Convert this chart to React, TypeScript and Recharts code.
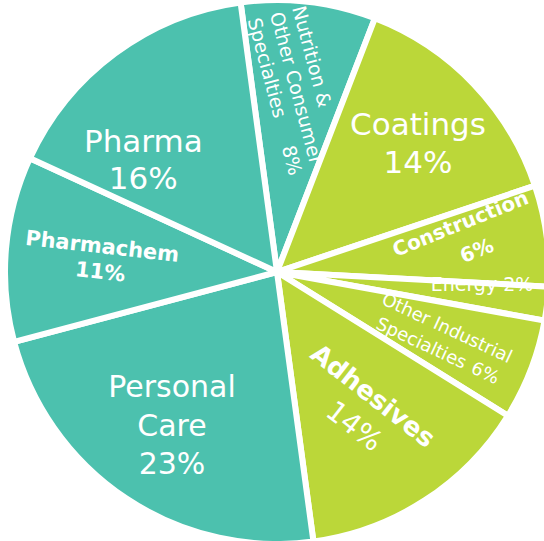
import React from 'react';
import { PieChart, Pie, Cell } from 'recharts';

// segments go clockwise starting just left of 12 o'clock
const segments = [
  'Nutrition & Other Consumer Specialties',
  'Coatings',
  'Construction',
  'Energy',
  'Other Industrial Specialties',
  'Adhesives',
  'Personal Care',
  'Pharmachem',
  'Pharma',
];
const shares = [8, 14, 6, 2, 6, 14, 23, 11, 16];
const markets = ['consumer', 'industrial', 'industrial', 'industrial', 'industrial', 'industrial', 'consumer', 'consumer', 'consumer'];
const nameLines = [
  ['Nutrition &', 'Other Consumer', 'Specialties'],
  ['Coatings'],
  ['Construction'],
  ['Energy'],
  ['Other Industrial', 'Specialties'],
  ['Adhesives'],
  ['Personal', 'Care'],
  ['Pharmachem'],
  ['Pharma'],
];

const marketColors: Record<string, string> = {
  consumer: '#4CC1AE',
  industrial: '#BBD739',
};

type LabelLayout = {
  x: number; // offset from pie centre
  y: number;
  rotate: number;
  size: number;
  weight: string;
  anchor: 'start' | 'middle' | 'end';
  lines: [number, number][];
  pct: [number, number] | null; // null -> percent inline on last line
  pctSize?: number;
  pctWeight?: string;
};

const labelLayout: LabelLayout[] = [
  { x: 15, y: -264, rotate: 75, size: 19, weight: 'normal', anchor: 'start', lines: [[0, 0], [0, 23], [0, 46]], pct: [132, 46] },
  { x: 141, y: -137, rotate: 0, size: 31, weight: 'normal', anchor: 'middle', lines: [[0, 0]], pct: [0, 38] },
  { x: 186, y: -42, rotate: -22, size: 20, weight: 'bold', anchor: 'middle', lines: [[0, 0]], pct: [5, 31] },
  { x: 205, y: 19, rotate: 0, size: 19, weight: 'normal', anchor: 'middle', lines: [[0, 0]], pct: null },
  { x: 103.5, y: 31.6, rotate: 25, size: 18, weight: 'normal', anchor: 'start', lines: [[0, 0], [5, 24.5]], pct: [110, 24.5] },
  { x: 90.5, y: 130.7, rotate: 38, size: 26, weight: 'bold', anchor: 'middle', lines: [[0, 0]], pct: [4, 36], pctSize: 28, pctWeight: 'normal' },
  { x: -105, y: 125, rotate: 0, size: 30, weight: 'normal', anchor: 'middle', lines: [[0, 0], [0, 38.5]], pct: [0, 76.6] },
  { x: -175.6, y: -18.7, rotate: 6.4, size: 21, weight: 'bold', anchor: 'middle', lines: [[0, 0]], pct: [1, 25.5] },
  { x: -133.7, y: -120.4, rotate: 0, size: 31, weight: 'normal', anchor: 'middle', lines: [[0, 0]], pct: [0, 37.5] },
];

const data = segments.map((name, i) => ({ name, value: shares[i], market: markets[i] }));

const renderLabel = (props: any) => {
  const { cx, cy, index } = props;
  const l = labelLayout[index];
  const lines = nameLines[index];
  const pct = `${shares[index]}%`;
  return (
    <g transform={`translate(${cx + l.x},${cy + l.y}) rotate(${l.rotate})`} fill="#fff" fontFamily="'DejaVu Sans', sans-serif">
      {lines.map((t, i) => (
        <text
          key={i}
          x={l.lines[i][0]}
          y={l.lines[i][1]}
          textAnchor={l.anchor}
          fontSize={l.size}
          fontWeight={l.weight}
          fill="#fff"
        >
          {l.pct === null && i === lines.length - 1 ? `${t} ${pct}` : t}
        </text>
      ))}
      {l.pct && (
        <text
          x={l.pct[0]}
          y={l.pct[1]}
          textAnchor={l.anchor}
          fontSize={l.pctSize ?? l.size}
          fontWeight={l.pctWeight ?? l.weight}
          fill="#fff"
        >
          {pct}
        </text>
      )}
    </g>
  );
};

const App: React.FC = () => {
  return (
    <div style={{ position: 'absolute', left: 0, top: 0, width: 544, height: 541, background: '#fff', overflow: 'hidden' }}>
      <PieChart width={544} height={541} margin={{ top: 0, right: 0, bottom: 0, left: 0 }}>
        <Pie
          data={data}
          dataKey="value"
          nameKey="name"
          cx={277}
          cy={272}
          outerRadius={272}
          startAngle={97.7}
          endAngle={-262.3}
          stroke="#fff"
          strokeWidth={6}
          label={renderLabel}
          labelLine={false}
          isAnimationActive={false}
        >
          {data.map((d, i) => (
            <Cell key={i} fill={marketColors[d.market]} />
          ))}
        </Pie>
      </PieChart>
    </div>
  );
};

export default App;
